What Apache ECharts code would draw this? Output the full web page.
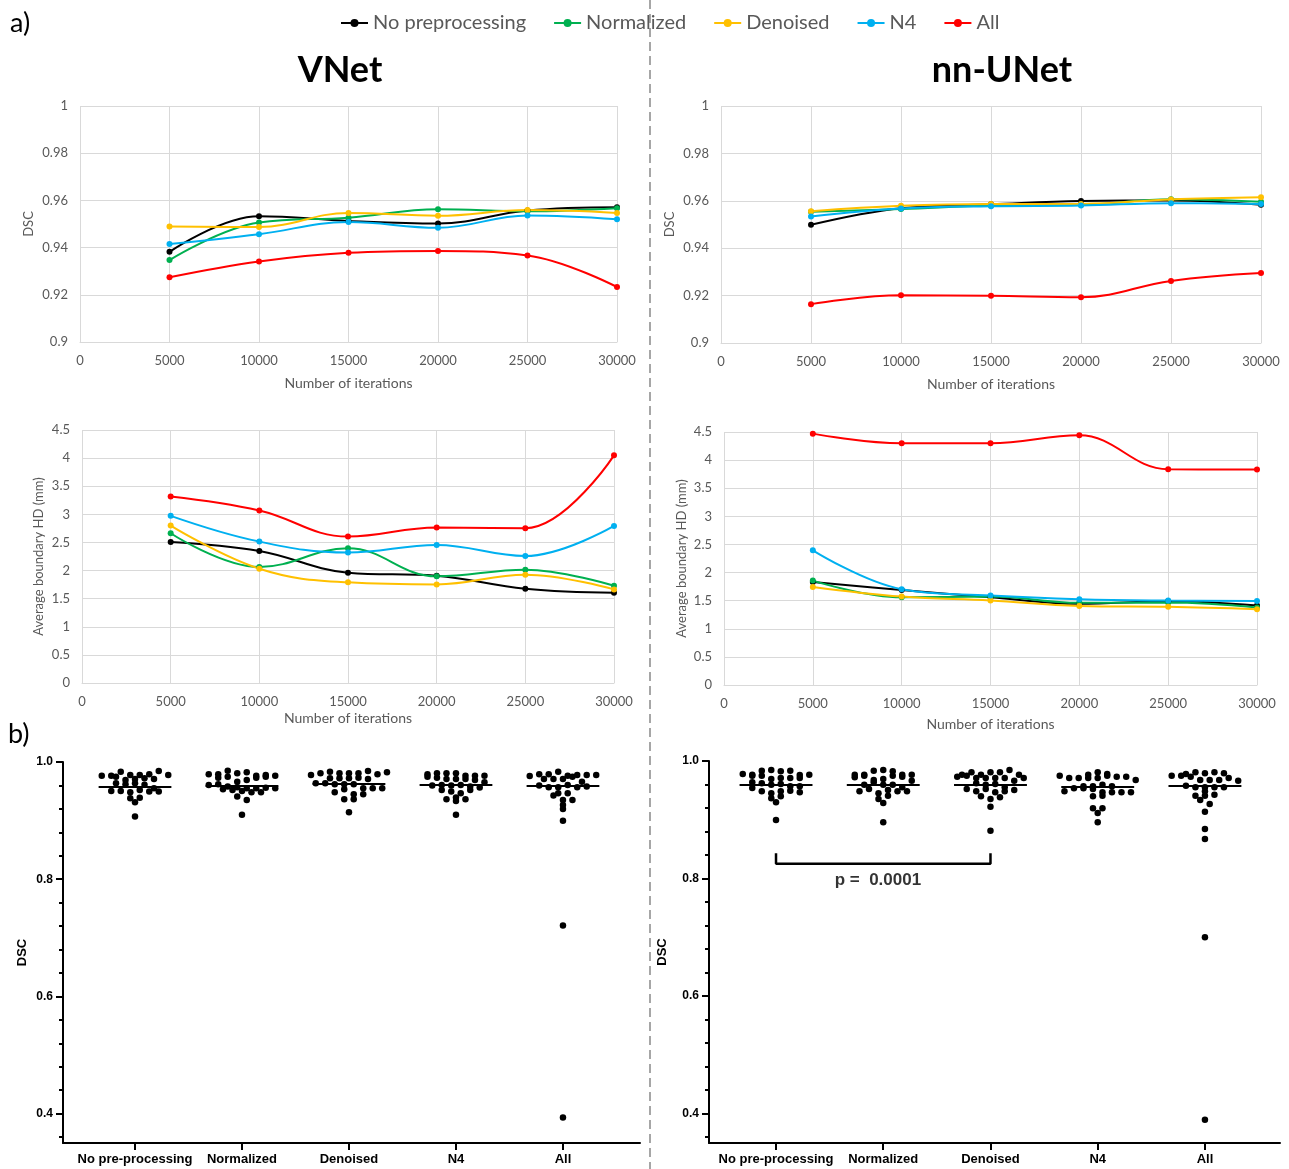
<!DOCTYPE html>
<html><head><meta charset="utf-8">
<script src="https://cdn.jsdelivr.net/npm/echarts@6/dist/echarts.min.js"></script>
<style>html,body{margin:0;padding:0;background:#fff}#c{width:1289px;height:1169px}</style>
</head><body><div id="c"></div>
<script>
// ---------- DATA ----------
const iterations = [5000, 10000, 15000, 20000, 25000, 30000];
const seriesNames = ['No preprocessing', 'Normalized', 'Denoised', 'N4', 'All'];
const seriesColors = ['#000000', '#00b050', '#ffc000', '#00b0f0', '#ff0000'];

// VNet DSC
const vnetDSC_noPre = [0.9382, 0.9533, 0.9513, 0.9502, 0.9557, 0.9571];
const vnetDSC_norm  = [0.9347, 0.9506, 0.9527, 0.9563, 0.9554, 0.9567];
const vnetDSC_den   = [0.9489, 0.9487, 0.9547, 0.9535, 0.9559, 0.9547];
const vnetDSC_n4    = [0.9415, 0.9457, 0.9508, 0.9484, 0.9536, 0.9520];
const vnetDSC_all   = [0.9274, 0.9341, 0.9378, 0.9386, 0.9367, 0.9233];
// nn-UNet DSC
const nnDSC_noPre = [0.9499, 0.9569, 0.9585, 0.9599, 0.9601, 0.9583];
const nnDSC_norm  = [0.9554, 0.9565, 0.9580, 0.9583, 0.9607, 0.9596];
const nnDSC_den   = [0.9556, 0.9579, 0.9587, 0.9587, 0.9606, 0.9615];
const nnDSC_n4    = [0.9534, 0.9567, 0.9577, 0.9580, 0.9590, 0.9587];
const nnDSC_all   = [0.9164, 0.9201, 0.9199, 0.9193, 0.9262, 0.9295];
// VNet HD
const vnetHD_noPre = [2.509, 2.348, 1.962, 1.908, 1.677, 1.605];
const vnetHD_norm  = [2.663, 2.063, 2.396, 1.897, 2.016, 1.730];
const vnetHD_den   = [2.800, 2.033, 1.790, 1.754, 1.926, 1.665];
const vnetHD_n4    = [2.973, 2.515, 2.319, 2.455, 2.259, 2.794];
const vnetHD_all   = [3.317, 3.068, 2.604, 2.765, 2.753, 4.049];
// nn-UNet HD
const nnHD_noPre = [1.833, 1.691, 1.561, 1.443, 1.490, 1.413];
const nnHD_norm  = [1.857, 1.561, 1.573, 1.461, 1.467, 1.378];
const nnHD_den   = [1.745, 1.573, 1.502, 1.407, 1.390, 1.348];
const nnHD_n4    = [2.395, 1.703, 1.591, 1.526, 1.502, 1.496];
const nnHD_all   = [4.471, 4.299, 4.299, 4.441, 3.838, 3.832];

// b) per-case DSC
const swarmGroups = ['No pre-processing', 'Normalized', 'Denoised', 'N4', 'All'];
const vnetCase_noPre = [0.9767,0.9767,0.9835,0.9779,0.9779,0.979,0.9846,0.9779,0.975,0.9694,0.9711,0.9722,0.9711,0.9637,0.962,0.9637,0.961,0.9506,0.9506,0.9484,0.9523,0.9552,0.9495,0.9495,0.9382,0.939,0.9314,0.907];
const vnetCase_norm  = [0.9733,0.975,0.979,0.979,0.9852,0.9807,0.9824,0.9767,0.9779,0.9665,0.9694,0.9767,0.9733,0.975,0.9608,0.962,0.958,0.9569,0.9552,0.9535,0.9523,0.9552,0.9506,0.956,0.9552,0.9484,0.9484,0.941,0.9353,0.9098];
const vnetCase_den   = [0.9779,0.9807,0.9835,0.9807,0.9807,0.9807,0.9846,0.979,0.9824,0.9722,0.9722,0.9722,0.9733,0.9711,0.9637,0.9637,0.962,0.962,0.962,0.9552,0.9552,0.9552,0.9484,0.9535,0.945,0.945,0.9365,0.9365,0.9143];
const vnetCase_n4    = [0.979,0.975,0.9733,0.9807,0.9807,0.9807,0.9767,0.9767,0.9767,0.9711,0.9711,0.9711,0.9694,0.9654,0.9597,0.9608,0.9597,0.9608,0.958,0.9523,0.9563,0.9495,0.9467,0.9523,0.9365,0.9336,0.9393,0.9365,0.9098];
const vnetCase_all   = [0.9762,0.979,0.979,0.9835,0.9767,0.9779,0.9779,0.9779,0.9711,0.9711,0.9711,0.975,0.9665,0.9597,0.9569,0.9569,0.9608,0.9569,0.958,0.9467,0.9427,0.9467,0.9353,0.9353,0.9268,0.92,0.8996,0.7209,0.3935];
const nnCase_noPre = [0.9779,0.975,0.9767,0.975,0.9835,0.9846,0.9824,0.9835,0.9694,0.9711,0.9711,0.9762,0.9767,0.9711,0.9637,0.962,0.9597,0.9608,0.9569,0.9569,0.9541,0.9484,0.945,0.9484,0.9495,0.9467,0.9365,0.9399,0.9297,0.8996];
const nnCase_norm  = [0.9722,0.9767,0.975,0.9767,0.9835,0.9846,0.9824,0.9767,0.9677,0.9694,0.975,0.9767,0.9733,0.9597,0.9637,0.9597,0.9665,0.9597,0.9484,0.9523,0.945,0.9506,0.9484,0.9552,0.9484,0.9353,0.941,0.9285,0.8956];
const nnCase_den   = [0.9767,0.9733,0.9807,0.9767,0.9807,0.9807,0.975,0.9846,0.9767,0.9711,0.9711,0.9711,0.9711,0.9665,0.9711,0.962,0.9597,0.9608,0.9552,0.9523,0.9484,0.9523,0.9467,0.9484,0.9506,0.9399,0.9353,0.9382,0.9223,0.8814];
const nnCase_n4    = [0.975,0.9767,0.9711,0.9711,0.9807,0.9711,0.9711,0.975,0.9733,0.9779,0.9733,0.9677,0.9484,0.9569,0.9535,0.9569,0.9597,0.9535,0.9569,0.9523,0.9467,0.9399,0.9467,0.9467,0.941,0.9467,0.9194,0.9115,0.9194,0.8956];
const nnCase_all   = [0.9779,0.975,0.9807,0.979,0.975,0.9807,0.9733,0.979,0.9677,0.9677,0.9677,0.9711,0.9665,0.958,0.9552,0.9552,0.9552,0.9552,0.941,0.941,0.9427,0.9484,0.9336,0.9268,0.9138,0.8843,0.8672,0.70,0.3895];
const vnetMedians = [0.958, 0.9597, 0.9625, 0.9608, 0.9597];
const nnMedians   = [0.9597, 0.9603, 0.959, 0.9569, 0.958];
const bracketFrom = 0, bracketTo = 2, bracketY = 0.825, bracketTickTop = 0.843;
const pLabel = 'p =  0.0001', pLabelY = 0.797;

const dscTicks = [0.4, 0.6, 0.8, 1.0];
const dscMinorTicks = [0.36,0.40,0.44,0.48,0.52,0.56,0.60,0.64,0.68,0.72,0.76,0.80,0.84,0.88,0.92,0.96,1.00];

// ---------- LAYOUT ----------
const EXF = 'Lato, "Open Sans", sans-serif';
const PF = '"Liberation Sans", Arial, sans-serif';
const grids = [
  {left: 80,  top: 106, width: 537, height: 236},
  {left: 721, top: 106, width: 540, height: 237},
  {left: 82,  top: 430, width: 532, height: 253},
  {left: 724, top: 432, width: 533, height: 253},
  {left: 63,  top: 762, width: 577, height: 381},
  {left: 709, top: 761, width: 571, height: 382}
];
const swarmX = [{min: -0.673, max: 4.72}, {min: -0.625, max: 4.70}];
const swarmYmin = 0.35, swarmYmax = 1.0;

function lineX(gi, gap) {
  return {type: 'value', gridIndex: gi, min: 0, max: 30000, interval: 5000,
    name: 'Number of iterations', nameLocation: 'middle', nameGap: gap,
    nameTextStyle: {color: '#595959', fontSize: 14, fontFamily: EXF},
    axisLine: {show: true, lineStyle: {color: '#d9d9d9', width: 1}},
    axisTick: {show: false},
    axisLabel: {color: '#595959', fontSize: 13, fontFamily: EXF, margin: 12, formatter: v => String(v)},
    splitLine: {show: true, lineStyle: {color: '#d9d9d9', width: 1}}};
}
function lineY(gi, min, max, interval, name, gap, dec) {
  return {type: 'value', gridIndex: gi, min, max, interval,
    name, nameLocation: 'middle', nameGap: gap,
    nameTextStyle: {color: '#595959', fontSize: 13, fontFamily: EXF},
    axisLine: {show: false}, axisTick: {show: false},
    axisLabel: {color: '#595959', fontSize: 13, fontFamily: EXF, margin: 12,
      formatter: v => String(+v.toFixed(dec))},
    splitLine: {show: true, lineStyle: {color: '#d9d9d9', width: 1}}};
}
function lineSeries(gi, arrs) {
  return seriesNames.map((n, k) => ({
    name: n, type: 'line', xAxisIndex: gi, yAxisIndex: gi,
    data: iterations.map((x, i) => [x, arrs[k][i]]),
    smooth: 0.4, symbol: 'circle', symbolSize: 6, showSymbol: true,
    lineStyle: {width: 2, color: seriesColors[k]},
    itemStyle: {color: seriesColors[k]}
  }));
}
// Dot-plot layout: values binned into rows one dot high, each row centred on its group.
function swarmPoints(groupsVals, g, xr) {
  const pxPerV = g.height / (swarmYmax - swarmYmin);
  const pxPerX = g.width / (xr.max - xr.min);
  const binV = 6 / pxPerV, spacing = 9.5, top = 0.9855;
  const out = [];
  groupsVals.forEach((vals, gi) => {
    const bins = new Map();
    vals.forEach(v => {
      const b = Math.floor((top - v) / binV);
      if (!bins.has(b)) bins.set(b, []);
      bins.get(b).push(v);
    });
    bins.forEach(arr => {
      arr.forEach((v, i) => out.push([gi + (i - (arr.length - 1) / 2) * spacing / pxPerX, v]));
    });
  });
  return out;
}
function swarmXAxis(gi, xr) {
  return {type: 'value', gridIndex: gi, min: xr.min, max: xr.max,
    axisLine: {show: true, onZero: false, lineStyle: {color: '#000', width: 2}},
    axisTick: {show: true, customValues: [0, 1, 2, 3, 4], length: 7, lineStyle: {color: '#000', width: 2}},
    axisLabel: {customValues: [0, 1, 2, 3, 4], formatter: v => swarmGroups[Math.round(v)],
      color: '#000', fontWeight: 'bold', fontSize: 13, fontFamily: PF, margin: 10},
    splitLine: {show: false}};
}
function swarmYAxes(gi, gap) {
  return [
    {type: 'value', gridIndex: gi, position: 'left', offset: 0, min: swarmYmin, max: swarmYmax,
      name: 'DSC', nameLocation: 'middle', nameGap: gap,
      nameTextStyle: {color: '#000', fontWeight: 'bold', fontSize: 13, fontFamily: PF},
      axisLine: {show: true, onZero: false, lineStyle: {color: '#000', width: 2}},
      axisTick: {show: true, customValues: dscTicks, length: 7, lineStyle: {color: '#000', width: 2}},
      axisLabel: {customValues: dscTicks, formatter: v => v.toFixed(1), color: '#000',
        fontWeight: 'bold', fontSize: 12, fontFamily: PF, margin: 10},
      splitLine: {show: false}},
    {type: 'value', gridIndex: gi, position: 'left', offset: 0, min: swarmYmin, max: swarmYmax,
      axisLine: {show: false, onZero: false},
      axisTick: {show: true, customValues: dscMinorTicks, length: 4, lineStyle: {color: '#000', width: 2}},
      axisLabel: {show: false}, splitLine: {show: false}}
  ];
}
function swarmSeries(gi, yIdx, groupsVals, medians, xr) {
  return {type: 'scatter', xAxisIndex: gi, yAxisIndex: yIdx,
    data: swarmPoints(groupsVals, grids[gi], xr),
    symbol: 'circle', symbolSize: 6.5, itemStyle: {color: '#000', opacity: 1}, silent: true,
    markLine: {silent: true, symbol: ['none', 'none'], label: {show: false},
      lineStyle: {color: '#000', width: 2, type: 'solid'},
      data: medians.map((m, i) => [{coord: [i - 0.34, m]}, {coord: [i + 0.34, m]}])}};
}

const yAxes = [
  lineY(0, 0.9, 1.0, 0.02, 'DSC', 45, 2),
  lineY(1, 0.9, 1.0, 0.02, 'DSC', 45, 2),
  lineY(2, 0, 4.5, 0.5, 'Average boundary HD (mm)', 37, 1),
  lineY(3, 0, 4.5, 0.5, 'Average boundary HD (mm)', 36, 1),
  ...swarmYAxes(4, 34),
  ...swarmYAxes(5, 40)
];

const option = {
  animation: false,
  backgroundColor: '#fff',
  legend: {data: seriesNames, left: 335, top: 8, itemWidth: 27, itemHeight: 10, itemGap: 27,
    textStyle: {color: '#595959', fontSize: 20, fontFamily: EXF}},
  grid: grids,
  xAxis: [lineX(0, 34), lineX(1, 34), lineX(2, 28), lineX(3, 32), swarmXAxis(4, swarmX[0]), swarmXAxis(5, swarmX[1])],
  yAxis: yAxes,
  series: [
    ...lineSeries(0, [vnetDSC_noPre, vnetDSC_norm, vnetDSC_den, vnetDSC_n4, vnetDSC_all]),
    ...lineSeries(1, [nnDSC_noPre, nnDSC_norm, nnDSC_den, nnDSC_n4, nnDSC_all]),
    ...lineSeries(2, [vnetHD_noPre, vnetHD_norm, vnetHD_den, vnetHD_n4, vnetHD_all]),
    ...lineSeries(3, [nnHD_noPre, nnHD_norm, nnHD_den, nnHD_n4, nnHD_all]),
    swarmSeries(4, 4, [vnetCase_noPre, vnetCase_norm, vnetCase_den, vnetCase_n4, vnetCase_all], vnetMedians, swarmX[0]),
    swarmSeries(5, 6, [nnCase_noPre, nnCase_norm, nnCase_den, nnCase_n4, nnCase_all], nnMedians, swarmX[1]),
    {type: 'line', xAxisIndex: 5, yAxisIndex: 6, symbol: 'none', silent: true,
      lineStyle: {color: '#000', width: 2.5},
      data: [[bracketFrom, bracketTickTop], [bracketFrom, bracketY], [bracketTo, bracketY], [bracketTo, bracketTickTop]]},
    {type: 'scatter', xAxisIndex: 5, yAxisIndex: 6, symbolSize: 1, silent: true,
      itemStyle: {color: 'transparent'},
      label: {show: true, position: 'inside', formatter: pLabel, color: '#000',
        fontWeight: 'bold', fontSize: 17, fontFamily: PF},
      data: [[(bracketFrom + bracketTo) / 2 - 0.05, pLabelY]]}
  ],
  graphic: [
    {type: 'line', shape: {x1: 650, y1: 0, x2: 650, y2: 1169}, style: {stroke: '#a6a6a6', lineWidth: 2, lineDash: [9, 5]}},
    {type: 'text', x: 10, y: 10, style: {text: 'a)', fontSize: 27, fontFamily: EXF, fill: '#000'}},
    {type: 'text', x: 8, y: 721, style: {text: 'b)', fontSize: 27, fontFamily: EXF, fill: '#000'}},
    {type: 'text', x: 340, y: 70, style: {text: 'VNet', fontSize: 36, fontWeight: 'bold', fontFamily: EXF, fill: '#000', align: 'center', verticalAlign: 'middle'}},
    {type: 'text', x: 1002, y: 70, style: {text: 'nn-UNet', fontSize: 36, fontWeight: 'bold', fontFamily: EXF, fill: '#000', align: 'center', verticalAlign: 'middle'}}
  ]
};
const chart = echarts.init(document.getElementById('c'), null, {renderer: 'canvas', width: 1289, height: 1169});
chart.setOption(option);
</script>
</body></html>
